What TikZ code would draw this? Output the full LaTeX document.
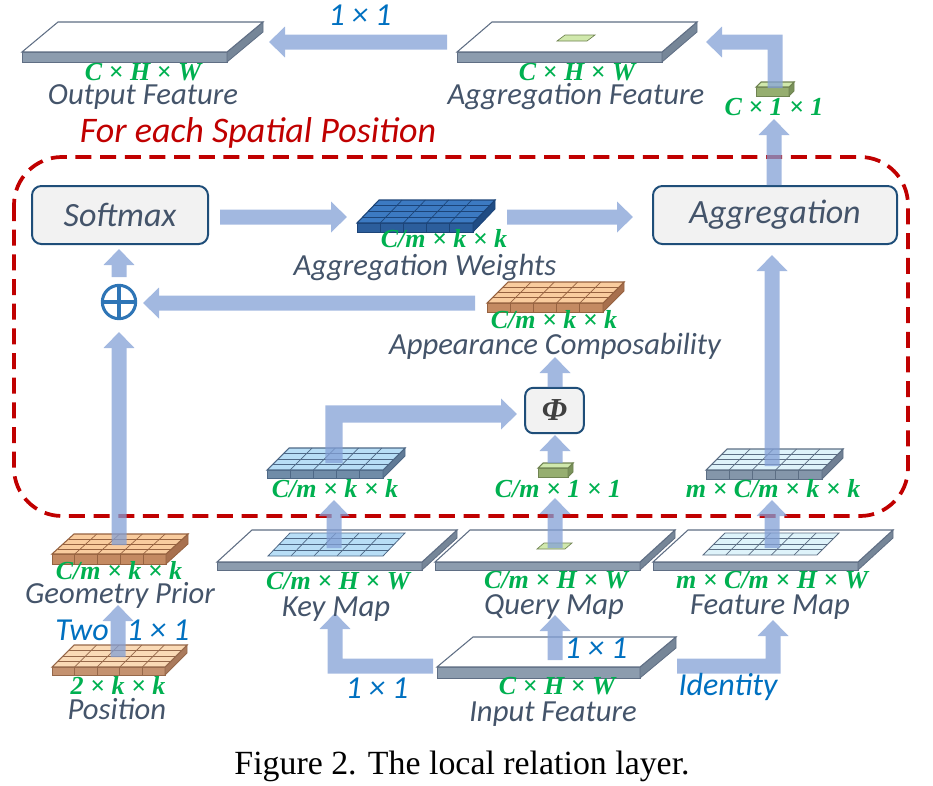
\documentclass[tikz,border=0pt]{standalone}
\usepackage{fontspec}
\setmainfont{Carlito}
\newfontfamily\dimfont{Liberation Serif}
\newfontfamily\capfont{Liberation Serif}
\usetikzlibrary{arrows.meta}
% colours
\definecolor{arrc}{RGB}{131,160,214}
\definecolor{lblc}{RGB}{68,84,106}
\definecolor{dimc}{RGB}{0,176,80}
\definecolor{bluec}{RGB}{0,112,192}
\definecolor{redc}{RGB}{192,0,0}
\definecolor{boxc}{RGB}{31,78,121}
\definecolor{boxfill}{RGB}{242,242,242}
\definecolor{plusc}{RGB}{46,117,182}
% slab scheme
\definecolor{sltop}{RGB}{255,255,255}
\definecolor{slfront}{RGB}{140,156,174}
\definecolor{slside}{RGB}{118,134,152}
\definecolor{slline}{RGB}{95,110,132}
% dark blue
\definecolor{dbtop}{RGB}{60,122,194}
\definecolor{dbfront}{RGB}{44,94,156}
\definecolor{dbside}{RGB}{32,76,132}
\definecolor{dbline}{RGB}{28,68,120}
% orange
\definecolor{ortop}{RGB}{249,204,158}
\definecolor{orfront}{RGB}{196,138,98}
\definecolor{orside}{RGB}{168,112,78}
\definecolor{orline}{RGB}{150,98,64}
% light orange (position)
\definecolor{potop}{RGB}{250,218,182}
\definecolor{pofront}{RGB}{196,146,112}
\definecolor{poside}{RGB}{170,122,92}
\definecolor{poline}{RGB}{150,104,74}
% light blue
\definecolor{lbtop}{RGB}{184,222,246}
\definecolor{lbfront}{RGB}{112,140,168}
\definecolor{lbside}{RGB}{96,122,150}
\definecolor{lbline}{RGB}{78,104,134}
% light cyan
\definecolor{lctop}{RGB}{222,243,250}
\definecolor{lcfront}{RGB}{132,150,170}
\definecolor{lcside}{RGB}{112,128,148}
\definecolor{lcline}{RGB}{92,110,132}
% green cube
\definecolor{gctop}{RGB}{208,232,172}
\definecolor{gcfront}{RGB}{150,174,112}
\definecolor{gcside}{RGB}{122,146,90}
\definecolor{gcline}{RGB}{112,132,82}

% a box with no grid: x y (front-left of top face), width, top depth, skew, thickness, scheme
\newcommand\cuboid[7]{%
  \filldraw[fill=#7front,draw=#7line,line width=0.6pt] (#1,#2) -- ++(#3,0) -- ++(0,#6) -- ++(-#3,0) -- cycle;
  \filldraw[fill=#7side,draw=#7line,line width=0.6pt] ({#1+#3},#2) -- ++(#5,-#4) -- ++(0,#6) -- ++(-#5,#4) -- cycle;
  \filldraw[fill=#7top,draw=#7line,line width=0.8pt] (#1,#2) -- ++(#3,0) -- ++(#5,-#4) -- ++(-#3,0) -- cycle;
}
% a box with a 5x4 grid
\newcommand\gridtile[7]{%
  \cuboid{#1}{#2}{#3}{#4}{#5}{#6}{#7}%
  \foreach \i in {1,2,3,4}{%
    \draw[#7line,line width=0.5pt] ({#1+\i*#3/5},#2) -- ++(#5,-#4);
    \draw[#7line,line width=0.5pt] ({#1+\i*#3/5},#2) -- ++(0,#6);}
  \foreach \j in {1,2,3}{%
    \draw[#7line,line width=0.5pt] ({#1+\j*#5/4},{#2-\j*#4/4}) -- ++(#3,0);}
}
% a flat grid on a slab
\newcommand\flatgrid[6]{%
  \filldraw[fill=#6top,draw=#6line,line width=0.6pt] (#1,#2) -- ++(#3,0) -- ++(#5,-#4) -- ++(-#3,0) -- cycle;
  \foreach \i in {1,2,3,4}{%
    \draw[#6line,line width=0.5pt] ({#1+\i*#3/5},#2) -- ++(#5,-#4);}
  \foreach \j in {1,2,3}{%
    \draw[#6line,line width=0.5pt] ({#1+\j*#5/4},{#2-\j*#4/4}) -- ++(#3,0);}
}
\newcommand\flatrect[6]{%
  \filldraw[fill=#6top,draw=#6line,line width=0.5pt] (#1,#2) -- ++(#3,0) -- ++(#5,-#4) -- ++(-#3,0) -- cycle;
}

\tikzset{
  arr/.style={draw=arrc, line width=11.25pt, line join=miter, -{Triangle[width=22.5pt,length=12pt]}},
  lbl/.style={text=lblc, font=\fontsize{23}{27}\selectfont\itshape, inner sep=0pt, anchor=base},
  dim/.style={text=dimc, font=\dimfont\fontsize{19.5}{22}\selectfont\bfseries\itshape, inner sep=0pt, anchor=base},
  blu/.style={text=bluec, font=\fontsize{24}{28}\selectfont\itshape, inner sep=0pt, anchor=base},
  box/.style={draw=boxc, fill=boxfill, line width=1.5pt, rounded corners=7pt, text=lblc,
    font=\fontsize{25.5}{30}\selectfont\itshape, minimum height=43.5pt, inner sep=0pt},
}

\begin{document}
\begin{tikzpicture}[x=0.75pt,y=-0.75pt]
\useasboundingbox (0,0) rectangle (933,786);

% region of each spatial position
\draw[draw=redc, line width=2.8pt, dash pattern=on 12pt off 6.5pt, rounded corners=36pt] (14,157) rectangle (908,516);

% slabs
\cuboid{22}{52}{205}{30}{36}{10}{sl}
\cuboid{457}{52}{205}{30}{35}{10}{sl}
\flatrect{557}{41}{30}{6}{8}{gc}
\cuboid{217}{562}{205}{32}{35}{8}{sl}
\cuboid{435}{562}{205}{32}{35}{8}{sl}
\cuboid{653}{562}{205}{32}{35}{8}{sl}
\cuboid{437}{667}{203}{30}{36}{11}{sl}
\flatgrid{268}{556}{115}{23}{22}{lb}
\flatgrid{703}{555}{114}{22}{22}{lc}
\flatrect{537}{549}{28}{6}{7}{gc}

% tiles
\gridtile{357}{223}{116}{23}{22}{9}{db}
\gridtile{487}{303}{116}{21}{21}{9}{or}
\gridtile{267}{470}{116}{22}{22}{8}{lb}
\gridtile{706}{470}{116}{21}{21}{9}{lc}
\gridtile{52}{554}{114}{20}{22}{10}{or}
\gridtile{52}{667}{113}{22}{22}{8}{po}
\cuboid{756}{87}{33}{5}{5}{9}{gc}
\cuboid{538}{468}{30}{5}{5}{9}{gc}

% boxes
\node[box, minimum width=132pt] (softmax) at (120,215) {Softmax};
\node[box, minimum width=183pt] (aggr) at (775,215) {Aggregation};
\node[box, minimum width=44pt, minimum height=34pt, rounded corners=6pt,
  font=\dimfont\fontsize{24}{28}\selectfont\bfseries\itshape, text={rgb,255:red,64;green,64;blue,64}] (phi) at (554.5,410.5) {Φ};
\node[circle, draw=plusc, line width=2.3pt, minimum size=25pt, inner sep=0pt] (plus) at (119,302) {};
\draw[plusc, line width=2.3pt] (plus.north) -- (plus.south) (plus.west) -- (plus.east);

% connector end points
\coordinate (aggfeatL) at (447,42);
\coordinate (outfeatR) at (269,42);
\coordinate (c11top) at (775,88);
\coordinate (c11bend) at (775,42);
\coordinate (aggfeatR) at (706,42);
\coordinate (aggrtop) at (774,185);
\coordinate (c11bot) at (774,119);
\coordinate (softR) at (220,217);
\coordinate (awL) at (347,217);
\coordinate (awR) at (507,217);
\coordinate (aggrL) at (633,217);
\coordinate (plusN) at (119,277);
\coordinate (softB) at (119,249);
\coordinate (acL) at (475,303);
\coordinate (plusE) at (143,303);
\coordinate (gpC) at (119,545);
\coordinate (plusS) at (119,332);
\coordinate (phiN) at (555,387);
\coordinate (acB) at (555,357);
\coordinate (ktC) at (334,463);
\coordinate (ktbend) at (334,414);
\coordinate (phiW) at (517,414);
\coordinate (qcC) at (555,463);
\coordinate (phiS) at (555,435);
\coordinate (ftC) at (772,466);
\coordinate (aggrB) at (772,255);
\coordinate (kmC) at (334,548);
\coordinate (ktB) at (334,500);
\coordinate (qmC) at (555,548);
\coordinate (qcB) at (555,498);
\coordinate (fmC) at (772,548);
\coordinate (ftB) at (772,500);
\coordinate (posC) at (118,657);
\coordinate (gpB) at (118,605);
\coordinate (inC) at (555,660);
\coordinate (qmB) at (555,615);
\coordinate (inL) at (433,666);
\coordinate (kbend) at (335,666);
\coordinate (kmB) at (335,613);
\coordinate (inR) at (677,666);
\coordinate (fbend) at (773,666);
\coordinate (fmB) at (773,620);

\begin{scope}[transparency group, opacity=0.75]
\draw[arr] (aggfeatL) -- (outfeatR);
\draw[arr] (c11top) -- (c11bend) -- (aggfeatR);
\draw[arr] (aggrtop) -- (c11bot);
\draw[arr] (softR) -- (awL);
\draw[arr] (awR) -- (aggrL);
\draw[arr] (plusN) -- (softB);
\draw[arr] (acL) -- (plusE);
\draw[arr] (gpC) -- (plusS);
\draw[arr] (phiN) -- (acB);
\draw[arr, line width=13pt] (ktC) -- (ktbend) -- (phiW);
\draw[arr] (qcC) -- (phiS);
\draw[arr] (ftC) -- (aggrB);
\draw[arr] (kmC) -- (ktB);
\draw[arr] (qmC) -- (qcB);
\draw[arr] (fmC) -- (ftB);
\draw[arr] (posC) -- (gpB);
\draw[arr] (inC) -- (qmB);
\draw[arr] (inL) -- (kbend) -- (kmB);
\draw[arr] (inR) -- (fbend) -- (fmB);
\end{scope}

% labels
\node[blu] (t11) at (360,25) {1 × 1};
\node[dim] (d1) at (143,80) {C × H × W};
\node[lbl] (l1) at (143,104) {Output Feature};
\node[dim] (d2) at (577,80) {C × H × W};
\node[lbl] (l2) at (576,104) {Aggregation Feature};
\node[dim] (d3) at (774,115) {C × 1 × 1};
\node[text=redc, font=\fontsize{27}{32}\selectfont\itshape, inner sep=0pt, anchor=base] (region) at (258,142) {For each Spatial Position};
\node[dim] (d4) at (444,247) {C/m × k × k};
\node[lbl] (l4) at (425,275) {Aggregation Weights};
\node[dim] (d5) at (554,328) {C/m × k × k};
\node[lbl] (l5) at (555,354) {Appearance Composability};
\node[dim] (d6) at (335,497) {C/m × k × k};
\node[dim] (d7) at (558,497) {C/m × 1 × 1};
\node[dim] (d8) at (773,497) {m × C/m × k × k};
\node[dim] (d9) at (119,579) {C/m × k × k};
\node[lbl] (l9) at (120,603) {Geometry Prior};
\node[dim] (d10) at (338,589) {C/m × H × W};
\node[lbl] (l10) at (336,616) {Key Map};
\node[dim] (d11) at (556,588) {C/m × H × W};
\node[lbl] (l11) at (554,614) {Query Map};
\node[dim] (d12) at (772,588) {m × C/m × H × W};
\node[lbl] (l12) at (770,614) {Feature Map};
\node[blu] (two) at (82,640) {Two};
\node[blu] (t11b) at (158,640) {1 × 1};
\node[dim] (d13) at (118,694) {2 × k × k};
\node[lbl] (l13) at (117,719) {Position};
\node[blu] (t11c) at (377,698) {1 × 1};
\node[blu] (t11d) at (596,658) {1 × 1};
\node[dim] (d14) at (557,694) {C × H × W};
\node[lbl] (l14) at (553,721) {Input Feature};
\node[blu] (ident) at (728,695) {Identity};
\node[font=\capfont\fontsize{25.4}{30}\selectfont, inner sep=0pt, anchor=base] (caption) at (462,774) {Figure 2. The local relation layer.};
\end{tikzpicture}
\end{document}
